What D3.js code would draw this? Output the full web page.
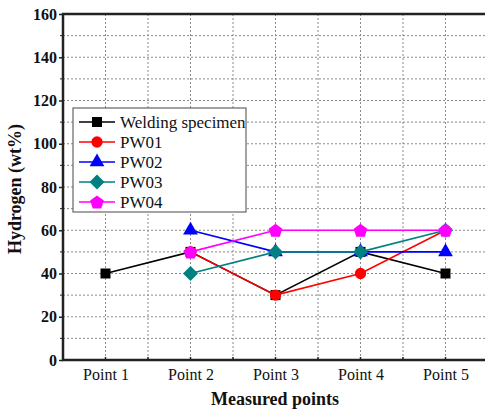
<!DOCTYPE html>
<html>
<head>
<meta charset="utf-8">
<script src="https://cdn.jsdelivr.net/npm/d3@7"></script>
<style>
  html, body { margin: 0; padding: 0; background: #fff; }
  svg { display: block; }
  svg text { font-family: "Liberation Serif", "Times New Roman", "DejaVu Serif", serif !important; }
</style>
</head>
<body>
<svg id="chart" width="485" height="409"></svg>
<script>
// Measurement locations along the weld
const categories = ["Point 1", "Point 2", "Point 3", "Point 4", "Point 5"];

// Hydrogen content (wt%) per specimen; null = not measured
const weldingSpecimen = [40, 50, 30, 50, 40];
const pw01 = [null, 50, 30, 40, 60];
const pw02 = [null, 60, 50, 50, 50];
const pw03 = [null, 40, 50, 50, 60];
const pw04 = [null, 50, 60, 60, 60];

const seriesNames = ["Welding specimen", "PW01", "PW02", "PW03", "PW04"];
const seriesColors = ["#000000", "#ff0000", "#0000ff", "#008080", "#ff00ff"];
const seriesSymbols = ["square", "circle", "triangle", "diamond", "pentagon"];

const yTicks = [0, 20, 40, 60, 80, 100, 120, 140, 160];

const series = seriesNames.map((name, i) => ({
  name,
  color: seriesColors[i],
  symbol: seriesSymbols[i],
  values: [weldingSpecimen, pw01, pw02, pw03, pw04][i]
}));

const svg = d3.select("#chart");
const margin = { left: 63, top: 14, bottom: 360, right: 488 };

// Categories sit half a step in from each side of the frame
const x = d3.scalePoint().domain(categories).range([margin.left, margin.right]).padding(0.5);
const step = x.step();
const y = d3.scaleLinear().domain([0, 160]).range([margin.bottom, margin.top]);

const g = svg.append("g");

// Dotted grid: every 10 wt% and every half category
const gridY = d3.range(10, 160, 10);
g.selectAll(".gy").data(gridY).join("line")
  .attr("x1", margin.left).attr("x2", 485)
  .attr("y1", d => y(d)).attr("y2", d => y(d))
  .attr("stroke", "#8a8a8a").attr("stroke-width", 1)
  .attr("stroke-dasharray", "2,2");

const gridX = [];
categories.forEach(c => { gridX.push(x(c)); gridX.push(x(c) + step / 2); });
g.selectAll(".gx").data(gridX.filter(v => v < 485)).join("line")
  .attr("x1", d => d).attr("x2", d => d)
  .attr("y1", margin.top).attr("y2", margin.bottom)
  .attr("stroke", "#8a8a8a").attr("stroke-width", 1)
  .attr("stroke-dasharray", "2,2");

// Y axis with bold labels and minor ticks
const yAxis = d3.axisLeft(y).tickValues(yTicks).tickSize(4).tickPadding(2);
const yg = g.append("g").attr("transform", `translate(${margin.left},0)`).call(yAxis);
yg.select(".domain").remove();
yg.selectAll("line").attr("stroke", "#222").attr("stroke-width", 1.5);
yg.selectAll("text")
  .attr("font-size", 16).attr("font-weight", "bold").attr("fill", "#111");
g.selectAll(".ym").data(gridY.filter(v => v % 20 !== 0)).join("line")
  .attr("x1", margin.left - 3).attr("x2", margin.left)
  .attr("y1", d => y(d)).attr("y2", d => y(d))
  .attr("stroke", "#222").attr("stroke-width", 1);

// X axis
const xAxis = d3.axisBottom(x).tickSize(0).tickPadding(9);
const xg = g.append("g").attr("transform", `translate(0,${margin.bottom})`).call(xAxis);
xg.select(".domain").remove();
xg.selectAll("text").attr("font-size", 16).attr("fill", "#111");
g.selectAll(".xm").data(gridX.filter(v => v < 485)).join("line")
  .attr("x1", d => d).attr("x2", d => d)
  .attr("y1", margin.bottom - 3).attr("y2", margin.bottom)
  .attr("stroke", "#222").attr("stroke-width", 1.5);

// Frame: left, bottom and top
g.append("line").attr("x1", margin.left).attr("x2", margin.left)
  .attr("y1", margin.top - 1).attr("y2", margin.bottom + 1)
  .attr("stroke", "#222").attr("stroke-width", 2.5);
g.append("line").attr("x1", margin.left - 1).attr("x2", 485)
  .attr("y1", margin.bottom).attr("y2", margin.bottom)
  .attr("stroke", "#222").attr("stroke-width", 2.5);
g.append("line").attr("x1", margin.left - 1).attr("x2", 485)
  .attr("y1", margin.top).attr("y2", margin.top)
  .attr("stroke", "#222").attr("stroke-width", 2.5);

// Axis titles
svg.append("text")
  .attr("x", 275).attr("y", 405)
  .attr("text-anchor", "middle")
  .attr("font-size", 18).attr("font-weight", "bold").attr("fill", "#111")
  .text("Measured points");
svg.append("text")
  .attr("transform", "translate(21,189) rotate(-90)")
  .attr("text-anchor", "middle")
  .attr("font-size", 18).attr("font-weight", "bold").attr("fill", "#111")
  .text("Hydrogen (wt%)");

// Marker shapes
function symbolPath(type) {
  switch (type) {
    case "square": return d3.symbol(d3.symbolSquare, 100)();
    case "circle": return d3.symbol(d3.symbolCircle, 100)();
    case "triangle": return d3.symbol(d3.symbolTriangle, 95)();
    case "diamond": {
      const r = 7.5;
      return `M0,${-r}L${r},0L0,${r}L${-r},0Z`;
    }
    case "pentagon": {
      const r = 7.2;
      const pts = d3.range(5).map(k => {
        const a = -Math.PI / 2 + k * 2 * Math.PI / 5;
        return [r * Math.cos(a), r * Math.sin(a) + 0.8];
      });
      return "M" + pts.map(p => p.join(",")).join("L") + "Z";
    }
  }
}

const line = d3.line()
  .defined(d => d.v !== null)
  .x(d => x(d.c)).y(d => y(d.v));

series.forEach(s => {
  const pts = categories.map((c, i) => ({ c, v: s.values[i] }));
  g.append("path").datum(pts)
    .attr("d", line)
    .attr("fill", "none").attr("stroke", s.color).attr("stroke-width", 1.6);
  g.selectAll(null).data(pts.filter(d => d.v !== null)).join("path")
    .attr("transform", d => `translate(${x(d.c)},${y(d.v)})`)
    .attr("d", symbolPath(s.symbol))
    .attr("fill", s.color);
});

// Legend
const legend = svg.append("g").attr("transform", "translate(73,108)");
legend.append("rect")
  .attr("x", 0).attr("y", 0).attr("width", 173).attr("height", 104)
  .attr("fill", "#fff").attr("stroke", "#666").attr("stroke-width", 1.2);
series.forEach((s, i) => {
  const cy = 14 + i * 20;
  legend.append("line").attr("x1", 6).attr("x2", 42).attr("y1", cy).attr("y2", cy)
    .attr("stroke", s.color).attr("stroke-width", 1.6);
  legend.append("path").attr("transform", `translate(24,${cy})`)
    .attr("d", symbolPath(s.symbol)).attr("fill", s.color);
  legend.append("text").attr("x", 47).attr("y", cy + 5.5)
    .attr("font-size", 17).attr("fill", "#111").text(s.name);
});
</script>
</body>
</html>
